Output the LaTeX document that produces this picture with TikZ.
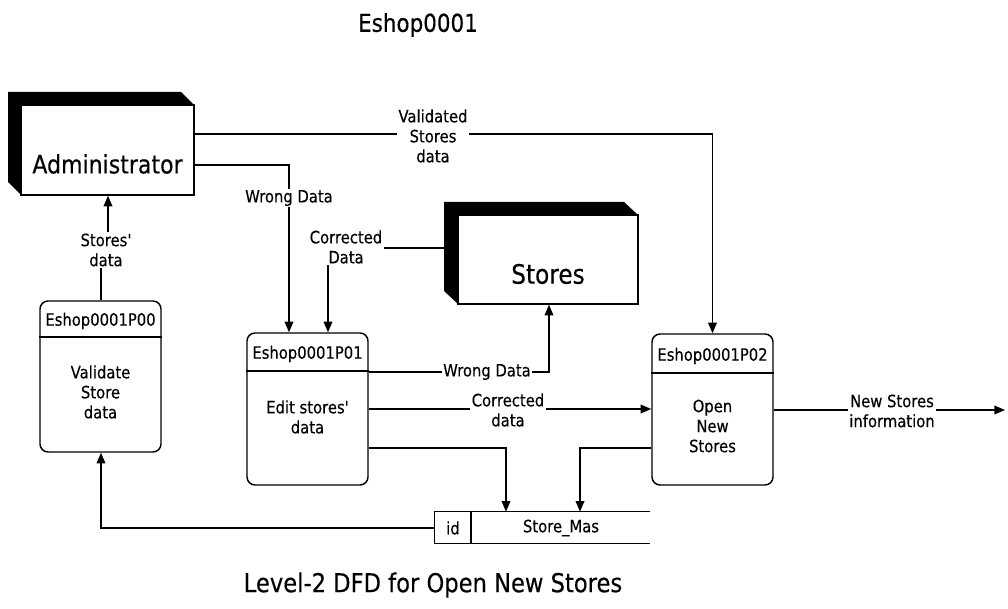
\documentclass[tikz,border=0pt]{standalone}
\usepackage{fontspec}
\setmainfont{DejaVu Sans}[FakeStretch=0.87,FakeBold=0.3,Ligatures=TeXOff]
\usetikzlibrary{arrows.meta}
\begin{document}
\begin{tikzpicture}[x=0.75pt,y=-0.75pt,
  line/.style={line width=1.1pt},
  arr/.style={line width=1.1pt, -{Triangle[length=8pt,width=6.5pt]}},
  lbl/.style={font=\fontsize{12.75}{15}\selectfont, align=center, inner sep=1pt},
  wlbl/.style={lbl, fill=white},
  proc/.style={draw, line width=1.1pt, rounded corners=6pt, minimum width=90.75pt, inner sep=0pt},
  ext/.style={draw, line width=1.1pt, fill=white, inner sep=0pt},
]
\useasboundingbox (0,0) rectangle (1008,609);

% title
\node[font=\fontsize{18.5}{22}\selectfont] (title) at (418,25) {Eshop0001};

% Administrator external entity
\fill (8,92) -- (181,92) -- (194,105) -- (21,105) -- (21,195) -- (8,182) -- cycle;
\node[ext, minimum width=129.75pt, minimum height=67.5pt] (admin) at (107.5,150) {};
\node[font=\fontsize{19}{23}\selectfont] (admintxt) at (107.5,164) {Administrator};

% Stores external entity
\fill (444,202) -- (624,202) -- (638,215) -- (458,215) -- (458,304) -- (444,291) -- cycle;
\node[ext, minimum width=135pt, minimum height=66.75pt] (stores) at (548,259.5) {};
\node[font=\fontsize{20}{24}\selectfont] (storestxt) at (548,274) {Stores};

% processes
\node[proc, minimum height=113.25pt] (p00) at (100.5,376.5) {};
\draw[line] (p00.west |- 0,337) -- (p00.east |- 0,337);
\node[lbl] (p00h) at (100.5,321) {Eshop0001P00};
\node[lbl] (p00b) at (100.5,392) {Validate\\Store\\data};

\node[proc, minimum height=114pt] (p01) at (307.5,409) {};
\draw[line] (p01.west |- 0,371) -- (p01.east |- 0,371);
\node[lbl] (p01h) at (307.5,354) {Eshop0001P01};
\node[lbl] (p01b) at (307.5,417) {Edit stores'\\data};

\node[proc, minimum height=113.25pt] (p02) at (712.5,409.5) {};
\draw[line] (p02.west |- 0,373) -- (p02.east |- 0,373);
\node[lbl] (p02h) at (712.5,356) {Eshop0001P02};
\node[lbl] (p02b) at (712.5,426) {Open\\New\\Stores};

% data store
\node[minimum width=161.25pt, minimum height=23.25pt, inner sep=0pt] (ds) at (542.5,527.5) {};
\draw[line] (ds.north east) -- (ds.north west) -- (ds.south west) -- (ds.south east);
\draw[line] (ds.north west -| 471,0) -- (ds.south west -| 471,0);
\node[lbl] (id) at (453,528) {id};
\node[lbl] (sm) at (561,528) {Store\_Mas};

% connectors
\draw[arr] (admin.east |- 0,134) -| (p02.north);
\node[wlbl] (l1) at (433,136) {Validated\\Stores\\data};

\draw[arr] (admin.east |- 0,165) -| (p01.north -| 289,0);
\node[wlbl] (l2) at (289,198) {Wrong Data};

\draw[arr] (stores.west |- 0,248) -| (p01.north -| 328,0);
\node[wlbl] (l3) at (346,247) {Corrected\\Data};

\draw[arr] (p01.east |- 0,372) -| (stores.south -| 549,0);
\node[wlbl] (l4) at (487,372) {Wrong Data};

\draw[arr] (p01.east |- 0,409) -- (p02.west |- 0,409);
\node[wlbl] (l5) at (508,410) {Corrected\\data};

\draw[arr] (p01.east |- 0,448) -| (ds.north -| 506,0);
\draw[arr] (p02.west |- 0,448) -| (ds.north -| 580,0);

\coordinate (out) at (1005,410);
\draw[arr] (p02.east |- 0,410) -- (out);
\node[wlbl] (l6) at (892,411) {New Stores\\information};

\draw[arr] (ds.west |- 0,528) -| (p00.south -| 101,0);

\coordinate (j1) at (101,250);
\coordinate (j2) at (108,250);
\draw[arr] (p00.north -| j1) -- (j1) -- (j2) -- (admin.south -| j2);
\node[wlbl] (l7) at (106,250) {Stores'\\data};

% caption
\node[font=\fontsize{19.5}{23}\selectfont] (cap) at (433,585) {Level-2 DFD for Open New Stores};
\end{tikzpicture}
\end{document}
